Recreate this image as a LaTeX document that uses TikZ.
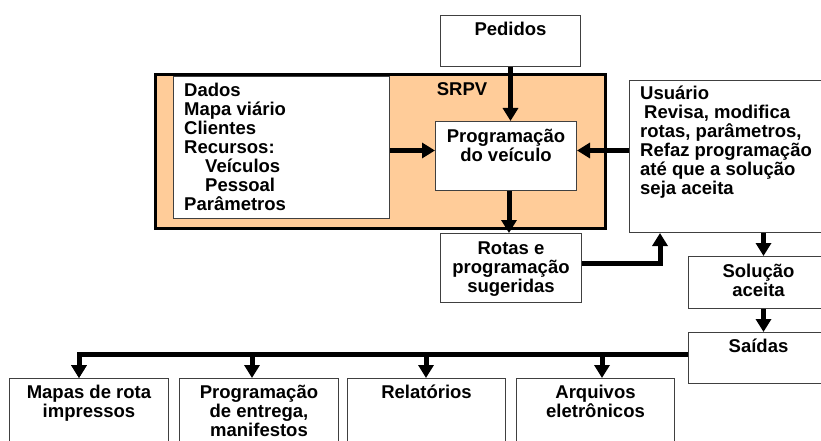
\documentclass[tikz,border=0pt]{standalone}
\usepackage{fontspec}
\setmainfont{Liberation Sans}
\usetikzlibrary{arrows.meta,positioning}
\definecolor{peach}{HTML}{FFCC99}
\tikzset{
  box/.style={draw=black!75, line width=1pt, fill=white, inner sep=0pt, anchor=north west},
  txt/.style={inner sep=0pt, font=\fontsize{18.5}{19}\selectfont\bfseries},
  flow/.style={line width=5pt, line join=miter, -{Triangle[width=15pt,length=13pt]}},
}
\begin{document}
\begin{tikzpicture}[x=1pt, y=-1pt]
    \useasboundingbox (0,0) rectangle (821,441);
    % sistema
    \node[box, draw=black, line width=3pt, fill=peach, minimum width=450pt, minimum height=154pt] (srpv) at (154,73) {};
    \node[txt] (srpv-t) at (462,89) {SRPV};
    \node[box, minimum width=140pt, minimum height=51pt] (ped) at (440,15) {};
    \node[box, minimum width=216pt, minimum height=142pt] (dados) at (173,76) {};
    \node[box, minimum width=141pt, minimum height=69pt] (prog) at (435,121) {};
    \node[box, minimum width=141pt, minimum height=69pt] (rotas) at (440,233) {};
    \node[box, minimum width=200pt, minimum height=152pt] (usu) at (629,80) {};
    \node[box, minimum width=140pt, minimum height=52pt] (sol) at (688,256) {};
    \node[box, minimum width=140pt, minimum height=51pt] (sai) at (688,332) {};
    % saidas
    \node[box, minimum width=159pt, minimum height=80pt] (m1) at (9,378) {};
    \node[box, minimum width=159pt, minimum height=80pt] (m2) at (179,378) {};
    \node[box, minimum width=158pt, minimum height=80pt] (m3) at (347,378) {};
    \node[box, minimum width=158pt, minimum height=80pt] (m4) at (516,378) {};

    \node[txt, anchor=north] (ped-t) at ([yshift=-7pt]ped.north) {Pedidos};
    \node[txt, align=left, anchor=north west] (dados-t) at ([xshift=11pt,yshift=-7pt]dados.north west)
        {Dados\\Mapa viário\\Clientes\\Recursos:\\\hspace*{21pt}Veículos\\\hspace*{21pt}Pessoal\\Parâmetros};
    \node[txt, align=center, anchor=north] (prog-t) at ([yshift=-8pt]prog.north) {Programação\\do veículo};
    \node[txt, align=center, anchor=north] (rotas-t) at ([yshift=-9pt]rotas.north) {Rotas e\\programação\\sugeridas};
    \node[txt, align=left, anchor=north west] (usu-t) at ([xshift=11pt,yshift=-6pt]usu.north west)
        {Usuário\\\hspace*{4pt}Revisa, modifica\\rotas, parâmetros,\\Refaz programação\\até que a solução\\seja aceita};
    \node[txt, align=center, anchor=north] (sol-t) at ([yshift=-8pt]sol.north) {Solução\\aceita};
    \node[txt, anchor=north] (sai-t) at ([yshift=-7pt]sai.north) {Saídas};
    \node[txt, align=center, anchor=north] (m1-t) at ([yshift=-7pt]m1.north) {Mapas de rota\\impressos};
    \node[txt, align=center, anchor=north] (m2-t) at ([yshift=-7pt]m2.north) {Programação\\de entrega,\\manifestos};
    \node[txt, anchor=north] (m3-t) at ([yshift=-7pt]m3.north) {Relatórios};
    \node[txt, align=center, anchor=north] (m4-t) at ([yshift=-7pt]m4.north) {Arquivos\\eletrônicos};

    % ligacoes
    \coordinate (pw) at ([yshift=5.5pt]prog.west);
    \coordinate (pe) at ([yshift=5.5pt]prog.east);
    \coordinate (s1) at ([xshift=5pt]sol.north);
    \coordinate (bus) at ([yshift=3.5pt]sai.west);
    \draw[flow] (ped.south) -- (ped.south |- prog.north);
    \draw[flow] (pw -| dados.east) -- (pw);
    \draw[flow] (pe -| usu.west) -- (pe);
    \draw[flow] ([xshift=3pt]prog.south) -- ([xshift=3pt]prog.south |- rotas.north);
    \draw[flow] ([yshift=4.5pt]rotas.east) -| ([xshift=31pt]usu.south west);
    \draw[flow] (s1 |- usu.south) -- (s1);
    \draw[flow] ([xshift=5pt]sol.south) -- ([xshift=5pt]sai.north);
    \foreach \x/\m in {79/m1,252/m2,426/m3,602/m4} {
        \coordinate (b-\m) at (\x,0);
        \draw[flow] (b-\m |- bus) -- (b-\m |- \m.north);
    }
    \draw[flow] (bus) -| (b-m1 |- m1.north);
\end{tikzpicture}
\end{document}
